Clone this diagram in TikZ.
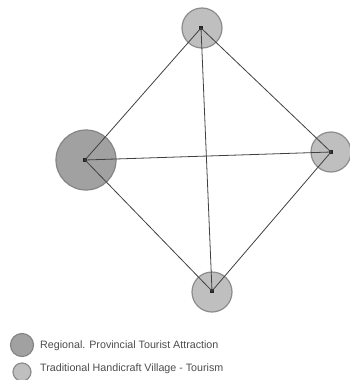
\documentclass[tikz,border=0pt]{standalone}
\usepackage{fontspec}
\setmainfont{Liberation Sans}
\begin{document}
\begin{tikzpicture}[x=1pt,y=-1pt,
  major/.style={circle,draw=black!48,line width=1.2pt,fill=black!37,inner sep=0pt,minimum size=60pt},
  minor/.style={circle,draw=black!45,line width=1.2pt,fill=black!25,inner sep=0pt,minimum size=40pt},
  hub/.style={fill=black!85,inner sep=0pt,minimum size=4.5pt},
  link/.style={draw=black!75,line width=0.8pt},
  legtext/.style={anchor=west,inner sep=0pt,font=\fontsize{10.7}{12}\selectfont,text=black!70}]
  \useasboundingbox (0,0) rectangle (349,380);
  % site circles
  \node[minor] (topc) at (202,28) {};
  \node[major] (leftc) at (86,160) {};
  \node[minor] (rightc) at (331,152) {};
  \node[minor] (botc) at (212,292) {};
  % centre markers
  \node[hub] (t) at (201,28) {};
  \node[hub] (l) at (85,160) {};
  \node[hub] (r) at (331,152) {};
  \node[hub] (b) at (212,291) {};
  % connections between every pair of sites
  \draw[link] (t.center) -- (l.center);
  \draw[link] (t.center) -- (r.center);
  \draw[link] (t.center) -- (b.center);
  \draw[link] (l.center) -- (r.center);
  \draw[link] (l.center) -- (b.center);
  \draw[link] (r.center) -- (b.center);
  % legend
  \node[major,minimum size=23pt] (k1) at (22,345) {};
  \node[legtext] (k1t) at (40,346) {Regional. Provincial Tourist Attraction};
  \node[minor,minimum size=18pt] (k2) at (22,372) {};
  \node[legtext] (k2t) at (40,369) {Traditional Handicraft Village - Tourism};
\end{tikzpicture}
\end{document}
